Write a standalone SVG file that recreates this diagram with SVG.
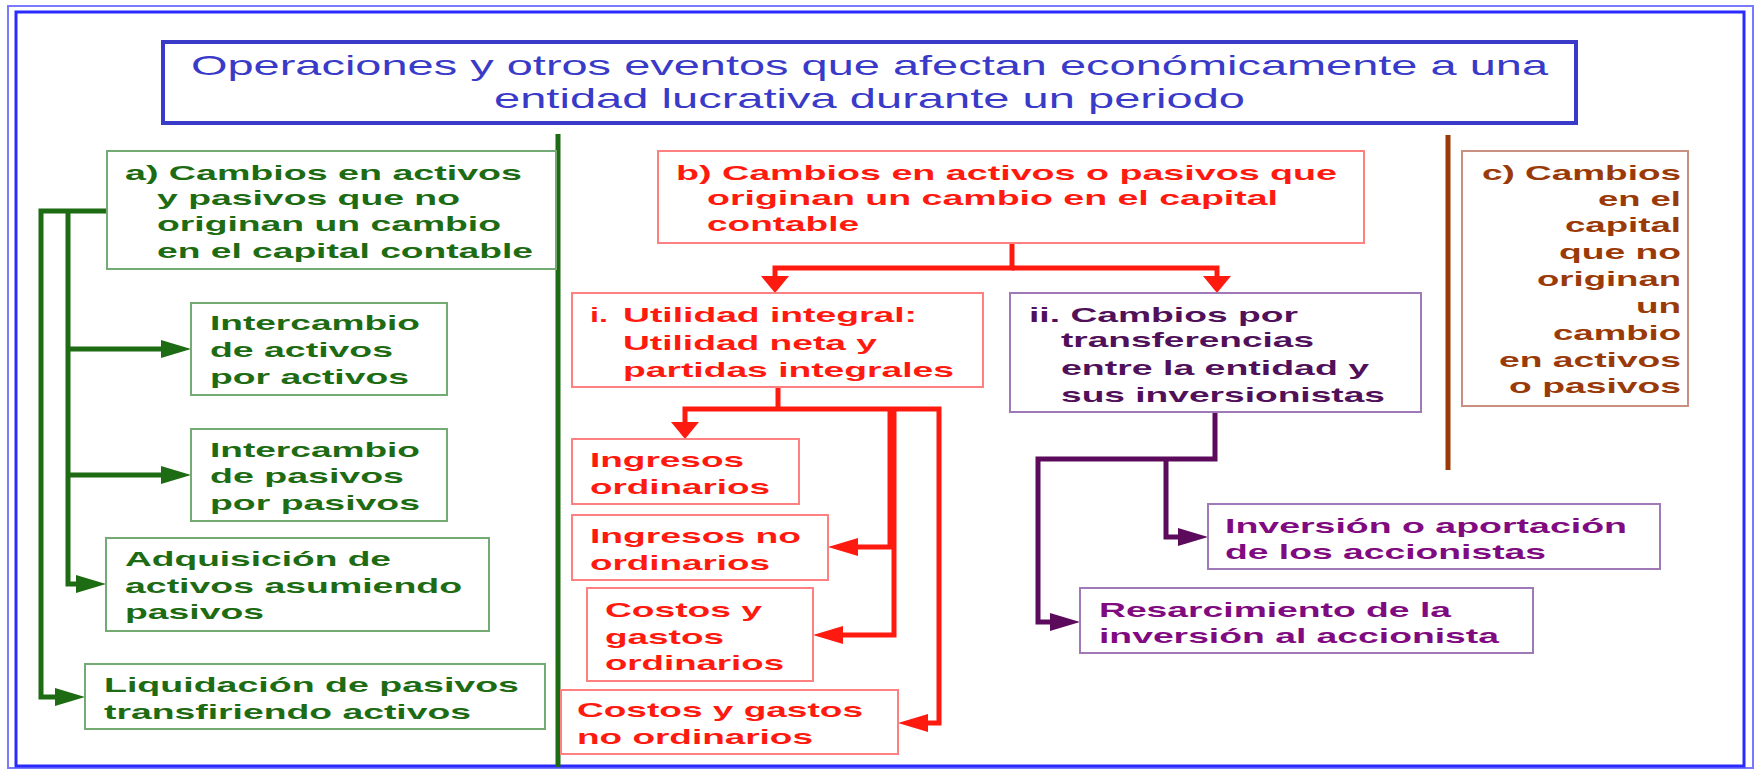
<svg xmlns="http://www.w3.org/2000/svg" width="1760" height="770" viewBox="0 0 1760 770">
<style>
text{font-family:"Liberation Sans",Arial,sans-serif;font-weight:bold;font-size:21px}
.tt{font-weight:normal;font-size:28px;fill:#3a3ac8}
.tg{fill:#1d6b12}
.tr{fill:#ff1a10}
.tp{fill:#50105a}
.tm{fill:#800a80}
.tb{fill:#9a3a08}
.bx{fill:#fff;stroke-width:2}
.bg{stroke:#74aa74}
.br{stroke:#ff8080}
.bp{stroke:#a07ab8}
.bb{stroke:#c89080}
.cg{fill:none;stroke:#1d6b12;stroke-width:5}
.cr{fill:none;stroke:#ff1a10;stroke-width:5}
.cp{fill:none;stroke:#5c0a5c;stroke-width:5}
</style>
<defs>
<marker id="ag" markerUnits="userSpaceOnUse" markerWidth="30" markerHeight="18" refX="18" refY="9" orient="auto"><path d="M0,0 L30,9 L0,18 z" fill="#1d6b12"/></marker>
<marker id="ar" markerUnits="userSpaceOnUse" markerWidth="30" markerHeight="18" refX="18" refY="9" orient="auto"><path d="M0,0 L30,9 L0,18 z" fill="#ff1a10"/></marker>
<marker id="ard" markerUnits="userSpaceOnUse" markerWidth="28" markerHeight="17" refX="14" refY="8" orient="0"><path d="M0,0 L28,0 L14,17 z" fill="#ff1a10"/></marker>
<marker id="ap" markerUnits="userSpaceOnUse" markerWidth="30" markerHeight="18" refX="18" refY="9" orient="auto"><path d="M0,0 L30,9 L0,18 z" fill="#5c0a5c"/></marker>
</defs>
<rect width="1760" height="770" fill="#fff"/>
<rect x="8" y="6" width="1745" height="762" fill="none" stroke="#7a7aff" stroke-width="2"/>
<rect x="16" y="12" width="1728" height="754" fill="none" stroke="#2a2aff" stroke-width="3"/>

<g id="title">
<rect x="163" y="42" width="1413" height="81" fill="#fff" stroke="#3a3ac8" stroke-width="4"/>
<text class="tt" x="191" y="75" textLength="1357" lengthAdjust="spacingAndGlyphs">Operaciones y otros eventos que afectan económicamente a una</text>
<text class="tt" x="494" y="108" textLength="751" lengthAdjust="spacingAndGlyphs">entidad lucrativa durante un periodo</text>
</g>

<g id="connectors">
<line x1="558" y1="134" x2="558" y2="767" class="cg"/>
<line x1="1448" y1="135" x2="1448" y2="470" fill="none" stroke="#9a3a08" stroke-width="5"/>
<polyline points="107,211 41,211 41,697 73,697" class="cg" marker-end="url(#ag)"/>
<polyline points="68,211 68,584 94,584" class="cg" marker-end="url(#ag)"/>
<line x1="68" y1="349" x2="179" y2="349" class="cg" marker-end="url(#ag)"/>
<line x1="68" y1="475" x2="179" y2="475" class="cg" marker-end="url(#ag)"/>
<polyline points="1012,243 1012,268 775,268 775,284" class="cr" marker-end="url(#ard)"/>
<polyline points="1012,268 1217,268 1217,284" class="cr" marker-end="url(#ard)"/>
<polyline points="778,387 778,409" class="cr"/>
<polyline points="778,409 685,409 685,430" class="cr" marker-end="url(#ard)"/>
<polyline points="778,409 939,409 939,723 910,723" class="cr" marker-end="url(#ar)"/>
<polyline points="890,409 890,547 840,547" class="cr" marker-end="url(#ar)"/>
<polyline points="894,409 894,635 825,635" class="cr" marker-end="url(#ar)"/>
<polyline points="1215,412 1215,459 1038,459 1038,622 1068,622" class="cp" marker-end="url(#ap)"/>
<polyline points="1166,459 1166,537 1196,537" class="cp" marker-end="url(#ap)"/>
</g>

<g id="node-a">
<rect x="107" y="151" width="449" height="118" class="bx bg"/>
<text class="tg" x="125" y="180" textLength="397" lengthAdjust="spacingAndGlyphs">a) Cambios en activos</text>
<text class="tg" x="157" y="205" textLength="303" lengthAdjust="spacingAndGlyphs">y pasivos que no</text>
<text class="tg" x="157" y="231" textLength="344" lengthAdjust="spacingAndGlyphs">originan un cambio</text>
<text class="tg" x="157" y="258" textLength="376" lengthAdjust="spacingAndGlyphs">en el capital contable</text>
</g>
<g id="node-a1">
<rect x="191" y="303" width="256" height="92" class="bx bg"/>
<text class="tg" x="210" y="330" textLength="210" lengthAdjust="spacingAndGlyphs">Intercambio</text>
<text class="tg" x="210" y="357" textLength="183" lengthAdjust="spacingAndGlyphs">de activos</text>
<text class="tg" x="210" y="384" textLength="199" lengthAdjust="spacingAndGlyphs">por activos</text>
</g>
<g id="node-a2">
<rect x="191" y="429" width="256" height="92" class="bx bg"/>
<text class="tg" x="210" y="457" textLength="210" lengthAdjust="spacingAndGlyphs">Intercambio</text>
<text class="tg" x="210" y="483" textLength="194" lengthAdjust="spacingAndGlyphs">de pasivos</text>
<text class="tg" x="210" y="510" textLength="210" lengthAdjust="spacingAndGlyphs">por pasivos</text>
</g>
<g id="node-a3">
<rect x="106" y="538" width="383" height="93" class="bx bg"/>
<text class="tg" x="125" y="566" textLength="266" lengthAdjust="spacingAndGlyphs">Adquisición de</text>
<text class="tg" x="125" y="593" textLength="337" lengthAdjust="spacingAndGlyphs">activos asumiendo</text>
<text class="tg" x="125" y="619" textLength="139" lengthAdjust="spacingAndGlyphs">pasivos</text>
</g>
<g id="node-a4">
<rect x="85" y="664" width="460" height="65" class="bx bg"/>
<text class="tg" x="104" y="692" textLength="415" lengthAdjust="spacingAndGlyphs">Liquidación de pasivos</text>
<text class="tg" x="104" y="719" textLength="367" lengthAdjust="spacingAndGlyphs">transfiriendo activos</text>
</g>

<g id="node-b">
<rect x="658" y="151" width="706" height="92" class="bx br"/>
<text class="tr" x="676" y="180" textLength="661" lengthAdjust="spacingAndGlyphs">b) Cambios en activos o pasivos que</text>
<text class="tr" x="707" y="205" textLength="571" lengthAdjust="spacingAndGlyphs">originan un cambio en el capital</text>
<text class="tr" x="707" y="231" textLength="152" lengthAdjust="spacingAndGlyphs">contable</text>
</g>
<g id="node-b1">
<rect x="572" y="293" width="411" height="94" class="bx br"/>
<text class="tr" x="590" y="322" textLength="18" lengthAdjust="spacingAndGlyphs">i.</text>
<text class="tr" x="623" y="322" textLength="294" lengthAdjust="spacingAndGlyphs">Utilidad integral:</text>
<text class="tr" x="623" y="350" textLength="254" lengthAdjust="spacingAndGlyphs">Utilidad neta y</text>
<text class="tr" x="623" y="377" textLength="331" lengthAdjust="spacingAndGlyphs">partidas integrales</text>
</g>
<g id="node-b11">
<rect x="572" y="439" width="227" height="65" class="bx br"/>
<text class="tr" x="590" y="467" textLength="154" lengthAdjust="spacingAndGlyphs">Ingresos</text>
<text class="tr" x="590" y="494" textLength="180" lengthAdjust="spacingAndGlyphs">ordinarios</text>
</g>
<g id="node-b12">
<rect x="572" y="515" width="256" height="65" class="bx br"/>
<text class="tr" x="590" y="543" textLength="211" lengthAdjust="spacingAndGlyphs">Ingresos no</text>
<text class="tr" x="590" y="570" textLength="180" lengthAdjust="spacingAndGlyphs">ordinarios</text>
</g>
<g id="node-b13">
<rect x="587" y="588" width="226" height="93" class="bx br"/>
<text class="tr" x="605" y="617" textLength="157" lengthAdjust="spacingAndGlyphs">Costos y</text>
<text class="tr" x="605" y="644" textLength="119" lengthAdjust="spacingAndGlyphs">gastos</text>
<text class="tr" x="605" y="670" textLength="179" lengthAdjust="spacingAndGlyphs">ordinarios</text>
</g>
<g id="node-b14">
<rect x="561" y="690" width="337" height="64" class="bx br"/>
<text class="tr" x="577" y="717" textLength="286" lengthAdjust="spacingAndGlyphs">Costos y gastos</text>
<text class="tr" x="577" y="744" textLength="236" lengthAdjust="spacingAndGlyphs">no ordinarios</text>
</g>

<g id="node-b2">
<rect x="1010" y="293" width="411" height="119" class="bx bp"/>
<text class="tp" x="1029" y="322" textLength="269" lengthAdjust="spacingAndGlyphs">ii. Cambios por</text>
<text class="tp" x="1061" y="347" textLength="253" lengthAdjust="spacingAndGlyphs">transferencias</text>
<text class="tp" x="1061" y="375" textLength="308" lengthAdjust="spacingAndGlyphs">entre la entidad y</text>
<text class="tp" x="1061" y="402" textLength="324" lengthAdjust="spacingAndGlyphs">sus inversionistas</text>
</g>
<g id="node-b21">
<rect x="1208" y="504" width="452" height="65" class="bx bp"/>
<text class="tm" x="1225" y="533" textLength="402" lengthAdjust="spacingAndGlyphs">Inversión o aportación</text>
<text class="tm" x="1225" y="559" textLength="321" lengthAdjust="spacingAndGlyphs">de los accionistas</text>
</g>
<g id="node-b22">
<rect x="1080" y="588" width="453" height="65" class="bx bp"/>
<text class="tm" x="1099" y="617" textLength="352" lengthAdjust="spacingAndGlyphs">Resarcimiento de la</text>
<text class="tm" x="1099" y="643" textLength="400" lengthAdjust="spacingAndGlyphs">inversión al accionista</text>
</g>

<g id="node-c">
<rect x="1462" y="151" width="226" height="255" class="bx bb"/>
<text class="tb" x="1482" y="180" textLength="199" lengthAdjust="spacingAndGlyphs">c) Cambios</text>
<text class="tb" x="1598" y="206" textLength="83" lengthAdjust="spacingAndGlyphs">en el</text>
<text class="tb" x="1565" y="232" textLength="116" lengthAdjust="spacingAndGlyphs">capital</text>
<text class="tb" x="1559" y="259" textLength="122" lengthAdjust="spacingAndGlyphs">que no</text>
<text class="tb" x="1537" y="286" textLength="144" lengthAdjust="spacingAndGlyphs">originan</text>
<text class="tb" x="1636" y="313" textLength="45" lengthAdjust="spacingAndGlyphs">un</text>
<text class="tb" x="1553" y="340" textLength="128" lengthAdjust="spacingAndGlyphs">cambio</text>
<text class="tb" x="1499" y="367" textLength="182" lengthAdjust="spacingAndGlyphs">en activos</text>
<text class="tb" x="1509" y="393" textLength="172" lengthAdjust="spacingAndGlyphs">o pasivos</text>
</g>
</svg>
